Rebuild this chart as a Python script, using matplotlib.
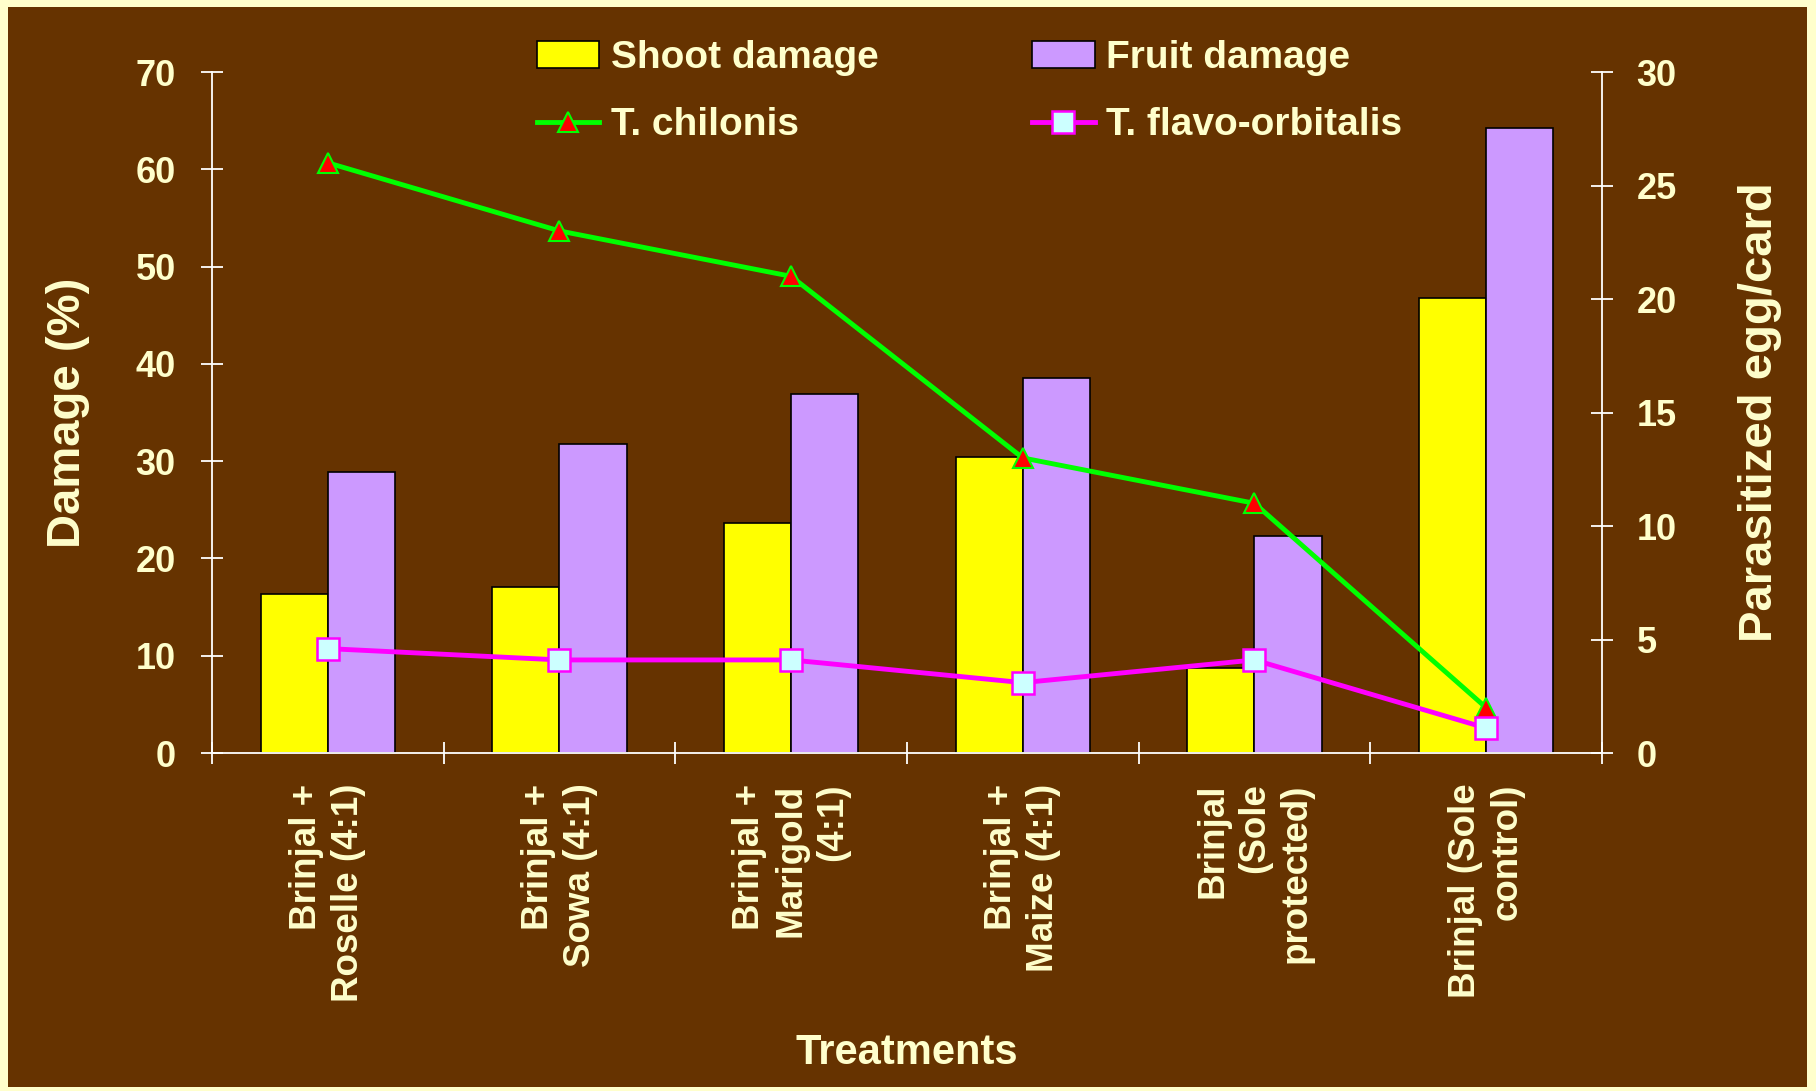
import numpy as np
import matplotlib
matplotlib.use("Agg")
import matplotlib.pyplot as plt
from matplotlib.patches import Rectangle

plt.rcParams['font.family'] = ['Liberation Sans', 'DejaVu Sans']
plt.rcParams['font.weight'] = 'bold'
plt.rcParams['axes.labelweight'] = 'bold'

# data
treatments = ["Brinjal +\nRoselle (4:1)", "Brinjal +\nSowa (4:1)", "Brinjal +\nMarigold\n(4:1)",
              "Brinjal +\nMaize (4:1)", "Brinjal\n(Sole\nprotected)", "Brinjal (Sole\ncontrol)"]
shoot = [16.3, 17.1, 23.6, 30.4, 8.7, 46.8]
fruit = [28.9, 31.8, 36.9, 38.5, 22.3, 64.2]
chilonis = [26.0, 23.0, 21.0, 13.0, 11.0, 2.0]
flavo = [4.6, 4.1, 4.1, 3.1, 4.1, 1.1]

brown = '#663300'
cream = '#FFFFCC'

fig = plt.figure(figsize=(18.16, 10.91), dpi=100)
fig.patch.set_facecolor(cream)
fig.add_artist(Rectangle((0.0045, 0.004), 0.9905, 0.99, transform=fig.transFigure,
                         facecolor=brown, edgecolor='none', zorder=-10))

ax = fig.add_axes([0.1167, 0.3098, 0.7654, 0.6242])
ax.set_facecolor('none')
x = np.arange(len(treatments))
w = 0.29
ax.bar(x - w / 2, shoot, w, color='#FFFF00', edgecolor='black', linewidth=1.2, label='Shoot damage')
ax.bar(x + w / 2, fruit, w, color='#CC99FF', edgecolor='black', linewidth=1.2, label='Fruit damage')
ax.set_xlim(-0.5, 5.5)
ax.set_ylim(0, 70)
ax.set_yticks(range(0, 71, 10))

ax2 = ax.twinx()
l1, = ax2.plot(x, chilonis, color='#00FF00', lw=3.5, marker='^', ms=15, mfc='#FF0000',
               mec='#00FF00', mew=1.5, label='T. chilonis')
l2, = ax2.plot(x, flavo, color='#FF00FF', lw=3.5, marker='s', ms=16, mfc='#CCFFFF',
               mec='#FF00FF', mew=1.8, label='T. flavo-orbitalis')
ax2.set_ylim(0, 30)
ax2.set_yticks(range(0, 31, 5))

for a in (ax, ax2):
    for s in a.spines.values():
        s.set_color('white')
        s.set_linewidth(1.3)
    a.spines['top'].set_visible(False)
ax.spines['right'].set_visible(False)
ax2.spines['left'].set_visible(False)
ax2.spines['bottom'].set_visible(False)

ax.tick_params(axis='y', direction='inout', length=16, width=1.3, color='white',
               labelcolor=cream, labelsize=26, pad=18)
ax2.tick_params(axis='y', direction='inout', length=16, width=1.3, color='white',
                labelcolor=cream, labelsize=26, pad=17)
ax.set_xticks(x)
ax.set_xticklabels(treatments, rotation=90, fontsize=26.5, color=cream,
                   multialignment='right', linespacing=1.25)
ax.tick_params(axis='x', length=0, pad=22)
ax.set_xticks(np.arange(-0.5, 6, 1), minor=True)
ax.tick_params(axis='x', which='minor', direction='inout', length=16, width=1.3, color='white')

ax.set_ylabel('Damage (%)', fontsize=34, color=cream, labelpad=33)
ax2.set_ylabel('Parasitized egg/card', fontsize=34, color=cream, labelpad=44)
ax.set_xlabel('Treatments', fontsize=30, color=cream, labelpad=22)

h1, lab1 = ax.get_legend_handles_labels()
handles = [h1[0], l1, h1[1], l2]
labels = [lab1[0], 'T. chilonis', lab1[1], 'T. flavo-orbitalis']
leg = fig.legend(handles, labels, ncol=2, loc='center', bbox_to_anchor=(0.534, 0.916),
                 frameon=False, fontsize=28, labelcolor=cream, handlelength=1.6,
                 handletextpad=0.3, columnspacing=3.95, labelspacing=0.8)

fig.savefig('out.png', dpi=100, facecolor=fig.get_facecolor())
